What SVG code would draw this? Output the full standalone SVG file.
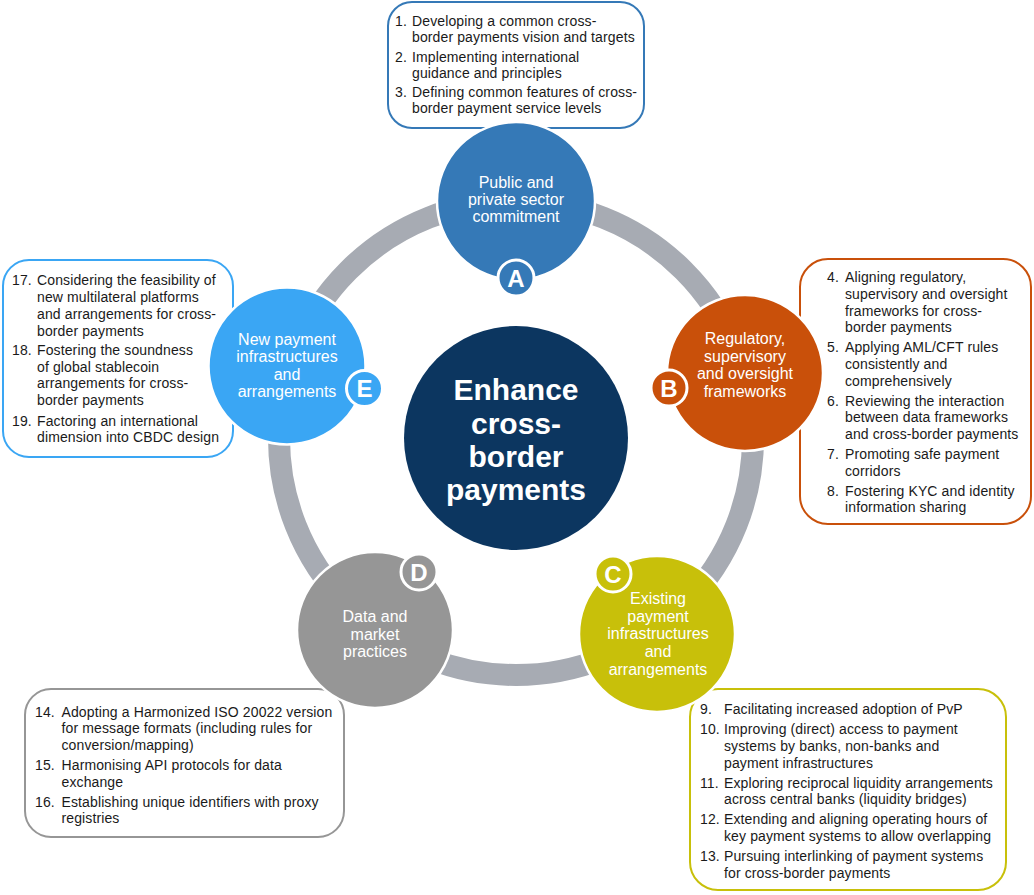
<svg xmlns="http://www.w3.org/2000/svg" width="1034" height="895" viewBox="0 0 1034 895">
<style>
.box{fill:#fff;stroke-width:2}
.t{font-family:"Liberation Sans",Arial,sans-serif;font-size:14px;fill:#1a1a1a;letter-spacing:0.12px}
.c{font-family:"Liberation Sans",Arial,sans-serif;font-size:16px;fill:#fff;text-anchor:middle}
.big{font-family:"Liberation Sans",Arial,sans-serif;font-size:30px;font-weight:bold;fill:#fff;text-anchor:middle}
.node{stroke:#fff;stroke-width:2.5}
.badge{stroke:#fff;stroke-width:3}
.bl{font-family:"Liberation Sans",Arial,sans-serif;font-size:24px;font-weight:bold;fill:#fff;text-anchor:middle}
</style>
<rect width="1034" height="895" fill="#fff"/>

<g id="connectors">
<circle cx="516" cy="438" r="237" fill="none" stroke="#A7ABB3" stroke-width="22"/>
</g>

<g id="box-A">
<rect class="box" x="388" y="2" width="256" height="126" rx="24" stroke="#3579B7"/>
<text class="t"><tspan x="395" y="26">1.</tspan><tspan x="412" y="26">Developing a common cross-</tspan><tspan x="412" y="42">border payments vision and targets</tspan><tspan x="395" y="62">2.</tspan><tspan x="412" y="62">Implementing international</tspan><tspan x="412" y="78">guidance and principles</tspan><tspan x="395" y="97">3.</tspan><tspan x="412" y="97">Defining common features of cross-</tspan><tspan x="412" y="113">border payment service levels</tspan></text>
</g>

<g id="box-B">
<rect class="box" x="800" y="259" width="231" height="265" rx="28" stroke="#C9500A"/>
<text class="t"><tspan x="827" y="282">4.</tspan><tspan x="845" y="282">Aligning regulatory,</tspan><tspan x="845" y="299">supervisory and oversight</tspan><tspan x="845" y="315.5">frameworks for cross-</tspan><tspan x="845" y="332">border payments</tspan><tspan x="827" y="352">5.</tspan><tspan x="845" y="352">Applying AML/CFT rules</tspan><tspan x="845" y="369">consistently and</tspan><tspan x="845" y="385.5">comprehensively</tspan><tspan x="827" y="405.5">6.</tspan><tspan x="845" y="405.5">Reviewing the interaction</tspan><tspan x="845" y="422">between data frameworks</tspan><tspan x="845" y="439">and cross-border payments</tspan><tspan x="827" y="459">7.</tspan><tspan x="845" y="459">Promoting safe payment</tspan><tspan x="845" y="475.5">corridors</tspan><tspan x="827" y="495.5">8.</tspan><tspan x="845" y="495.5">Fostering KYC and identity</tspan><tspan x="845" y="512">information sharing</tspan></text>
</g>

<g id="box-E">
<rect class="box" x="3" y="260" width="230" height="197" rx="26" stroke="#3AA6F4"/>
<text class="t"><tspan x="12" y="285">17.</tspan><tspan x="37" y="285">Considering the feasibility of</tspan><tspan x="37" y="302">new multilateral platforms</tspan><tspan x="37" y="319">and arrangements for cross-</tspan><tspan x="37" y="335.5">border payments</tspan><tspan x="12" y="355">18.</tspan><tspan x="37" y="355">Fostering the soundness</tspan><tspan x="37" y="371.5">of global stablecoin</tspan><tspan x="37" y="388">arrangements for cross-</tspan><tspan x="37" y="405">border payments</tspan><tspan x="12" y="425.5">19.</tspan><tspan x="37" y="425.5">Factoring an international</tspan><tspan x="37" y="442">dimension into CBDC design</tspan></text>
</g>

<g id="box-D">
<rect class="box" x="25" y="689" width="319" height="148" rx="26" stroke="#969696"/>
<text class="t"><tspan x="35" y="716.5">14.</tspan><tspan x="61.5" y="716.5">Adopting a Harmonized ISO 20022 version</tspan><tspan x="61.5" y="733">for message formats (including rules for</tspan><tspan x="61.5" y="750">conversion/mapping)</tspan><tspan x="35" y="770">15.</tspan><tspan x="61.5" y="770">Harmonising API protocols for data</tspan><tspan x="61.5" y="786.5">exchange</tspan><tspan x="35" y="806.5">16.</tspan><tspan x="61.5" y="806.5">Establishing unique identifiers with proxy</tspan><tspan x="61.5" y="823">registries</tspan></text>
</g>

<g id="box-C">
<rect class="box" x="690" y="689" width="316" height="201" rx="28" stroke="#C8C00A"/>
<text class="t"><tspan x="700" y="714">9.</tspan><tspan x="724" y="714">Facilitating increased adoption of PvP</tspan><tspan x="700" y="734">10.</tspan><tspan x="724" y="734">Improving (direct) access to payment</tspan><tspan x="724" y="751">systems by banks, non-banks and</tspan><tspan x="724" y="767.5">payment infrastructures</tspan><tspan x="700" y="787.5">11.</tspan><tspan x="724" y="787.5">Exploring reciprocal liquidity arrangements</tspan><tspan x="724" y="804">across central banks (liquidity bridges)</tspan><tspan x="700" y="824">12.</tspan><tspan x="724" y="824">Extending and aligning operating hours of</tspan><tspan x="724" y="841">key payment systems to allow overlapping</tspan><tspan x="700" y="861">13.</tspan><tspan x="724" y="861">Pursuing interlinking of payment systems</tspan><tspan x="724" y="877.5">for cross-border payments</tspan></text>
</g>

<g id="center">
<circle cx="516" cy="438" r="112" fill="#0C3660"/>
<text class="big"><tspan x="516" y="400">Enhance</tspan><tspan x="516" y="434">cross-</tspan><tspan x="516" y="467">border</tspan><tspan x="516" y="500">payments</tspan></text>
</g>

<g id="node-A">
<circle class="node" cx="516" cy="201" r="79" fill="#3579B7"/>
<text class="c"><tspan x="516" y="188">Public and</tspan><tspan x="516" y="205">private sector</tspan><tspan x="516" y="222">commitment</tspan></text>
<circle class="badge" cx="516" cy="278" r="18" fill="#3579B7"/>
<text class="bl" x="516" y="286.5">A</text>
</g>

<g id="node-B">
<circle class="node" cx="745" cy="373" r="78" fill="#C9500A"/>
<text class="c"><tspan x="745" y="344">Regulatory,</tspan><tspan x="745" y="362">supervisory</tspan><tspan x="745" y="379">and oversight</tspan><tspan x="745" y="397">frameworks</tspan></text>
<circle class="badge" cx="669" cy="388" r="18" fill="#C9500A"/>
<text class="bl" x="669" y="396.5">B</text>
</g>

<g id="node-C">
<circle class="node" cx="657" cy="634" r="78" fill="#C8C00A"/>
<text class="c"><tspan x="658" y="604">Existing</tspan><tspan x="658" y="622">payment</tspan><tspan x="658" y="639">infrastructures</tspan><tspan x="658" y="657">and</tspan><tspan x="658" y="675">arrangements</tspan></text>
<circle class="badge" cx="613" cy="574" r="18" fill="#C8C00A"/>
<text class="bl" x="613" y="582.5">C</text>
</g>

<g id="node-D">
<circle class="node" cx="375" cy="630" r="78" fill="#969696"/>
<text class="c"><tspan x="375" y="622">Data and</tspan><tspan x="375" y="640">market</tspan><tspan x="375" y="657">practices</tspan></text>
<circle class="badge" cx="419" cy="572" r="18" fill="#969696"/>
<text class="bl" x="419" y="580.5">D</text>
</g>

<g id="node-E">
<circle class="node" cx="287" cy="366" r="78.5" fill="#3AA6F4"/>
<text class="c"><tspan x="287" y="345">New payment</tspan><tspan x="287" y="362">infrastructures</tspan><tspan x="287" y="380">and</tspan><tspan x="287" y="397">arrangements</tspan></text>
<circle class="badge" cx="364.5" cy="388.5" r="18" fill="#3AA6F4"/>
<text class="bl" x="364.5" y="397">E</text>
</g>
</svg>
